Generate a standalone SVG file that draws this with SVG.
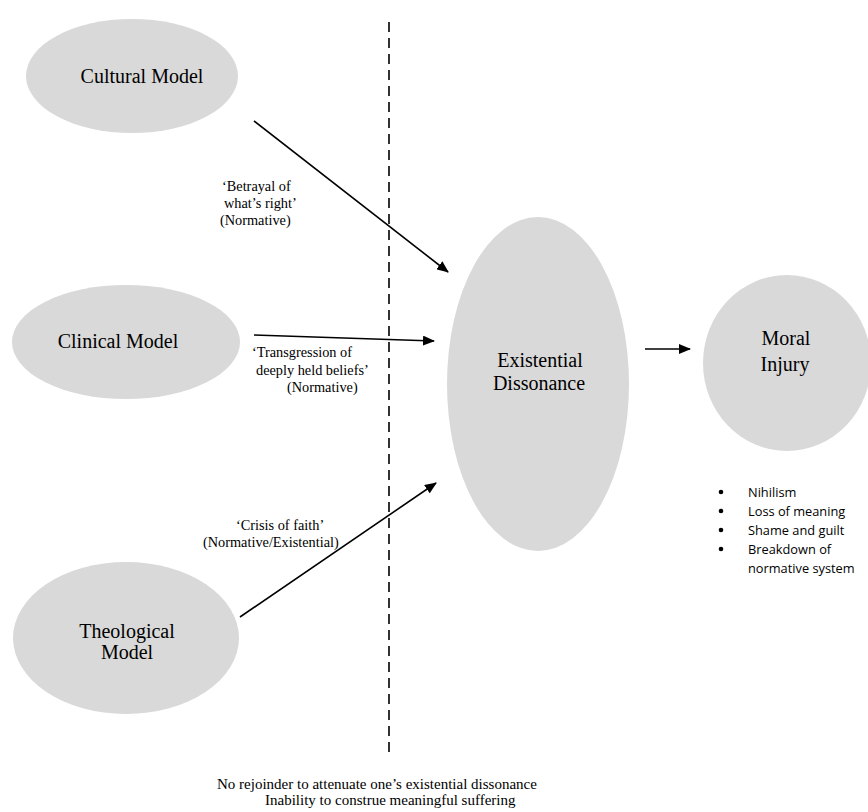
<svg xmlns="http://www.w3.org/2000/svg" width="868" height="812" viewBox="0 0 868 812">
<style>
.node{fill:#d9d9d9;}
.nl{font-family:"Liberation Serif","Times New Roman",serif;font-size:20px;fill:#000;text-anchor:middle;}
.lb{font-family:"Liberation Serif","Times New Roman",serif;font-size:14.3px;fill:#000;}
.bt{font-family:"Liberation Serif","Times New Roman",serif;font-size:15px;fill:#000;}
.bl{font-family:"Open Sans","Liberation Sans",sans-serif;font-size:12.8px;fill:#000;}
.edge{stroke:#000;stroke-width:1.6;fill:none;marker-end:url(#ah);}
</style>
<defs>
<marker id="ah" viewBox="0 0 12 10" refX="11" refY="5" markerWidth="12" markerHeight="10" markerUnits="userSpaceOnUse" orient="auto">
<path d="M0,0 L12,5 L0,10 z" fill="#000"/>
</marker>
</defs>
<rect width="868" height="812" fill="#fff"/>
<g id="cultural"><ellipse class="node" cx="132" cy="76" rx="106" ry="57"/><text class="nl" x="142" y="83">Cultural Model</text></g>
<g id="clinical"><ellipse class="node" cx="126" cy="342" rx="114" ry="57"/><text class="nl" x="118" y="348">Clinical Model</text></g>
<g id="theological"><ellipse class="node" cx="126" cy="638" rx="113" ry="76"/><text class="nl" x="127" y="638">Theological</text><text class="nl" x="127" y="659">Model</text></g>
<g id="existential"><ellipse class="node" cx="538" cy="384" rx="91" ry="167"/><text class="nl" x="540" y="367">Existential</text><text class="nl" x="539" y="390">Dissonance</text></g>
<g id="moral"><ellipse class="node" cx="787" cy="363" rx="84" ry="88"/><text class="nl" x="786" y="345">Moral</text><text class="nl" x="785" y="371">Injury</text></g>
<g id="connectors">
<line x1="389" y1="22" x2="389" y2="757" stroke="#000" stroke-width="1.6" stroke-dasharray="10,6"/>
<line class="edge" x1="254" y1="121" x2="448" y2="272"/>
<line class="edge" x1="254" y1="335" x2="434" y2="341"/>
<line class="edge" x1="240" y1="617" x2="436" y2="483"/>
<line class="edge" x1="645" y1="349" x2="690" y2="349"/>
</g>
<g id="labels">
<text class="lb" x="222" y="191">‘Betrayal of</text>
<text class="lb" x="224" y="208">what’s right’</text>
<text class="lb" x="220" y="225">(Normative)</text>
<text class="lb" x="252" y="357">‘Transgression of</text>
<text class="lb" x="256" y="375">deeply held beliefs’</text>
<text class="lb" x="287" y="392">(Normative)</text>
<text class="lb" x="236" y="530">‘Crisis of faith’</text>
<text class="lb" x="203" y="547">(Normative/Existential)</text>
<text class="bt" x="217" y="789">No rejoinder to attenuate one’s existential dissonance</text>
<text class="bt" x="265" y="805">Inability to construe meaningful suffering</text>
</g>
<g id="bullets">
<circle cx="721" cy="492" r="2.3"/><text class="bl" x="748" y="497">Nihilism</text>
<circle cx="721" cy="511" r="2.3"/><text class="bl" x="748" y="516">Loss of meaning</text>
<circle cx="721" cy="530" r="2.3"/><text class="bl" x="748" y="535">Shame and guilt</text>
<circle cx="721" cy="549" r="2.3"/><text class="bl" x="748" y="554">Breakdown of</text>
<text class="bl" x="748" y="573">normative system</text>
</g>
</svg>
